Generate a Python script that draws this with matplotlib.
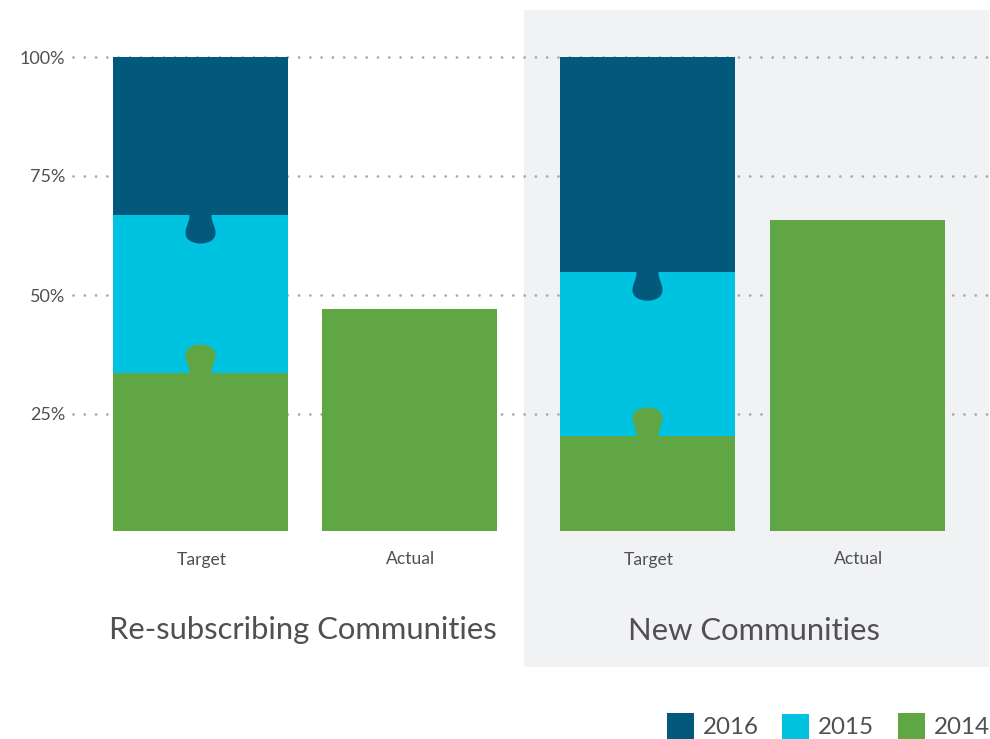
import matplotlib
matplotlib.use("Agg")
import matplotlib.pyplot as plt
from matplotlib.patches import Rectangle, PathPatch
from matplotlib.path import Path

plt.rcParams['font.family'] = ['Lato', 'DejaVu Sans']

# Share of the goal reached, per group
groups = ["Re-subscribing Communities", "New Communities"]
bar_labels = ["Target", "Actual"]
target_2014 = [33.6, 20.4]
target_2015 = [33.2, 34.4]
target_2016 = [33.2, 45.2]
actual_2014 = [47.0, 65.8]
grid_values = [25, 50, 75, 100]
grid_labels = ["25%", "50%", "75%", "100%"]
legend_years = ["2016", "2015", "2014"]

C16, C15, C14 = "#02597c", "#00c3e1", "#60a645"
TEXT = "#505052"

W, H = 990, 739
PX_PER_UNIT = 4.76
ZERO_PY = 533.0
BASE = 0.42


def val(py):
    return (ZERO_PY - py) / PX_PER_UNIT


fig = plt.figure(figsize=(W / 100, H / 100), dpi=100)
ax = fig.add_axes([0, 0, 1, 1])
ax.set_xlim(0, W)
ax.set_ylim(val(H), val(0))
ax.axis("off")

# Shaded panel behind the second group
ax.add_patch(Rectangle((524, val(667)), 465, val(10) - val(667),
                       fc="#f1f2f4", ec="none", zorder=0))

# Dotted reference lines and their labels
for v, lab in zip(grid_values, grid_labels):
    ax.plot([73, 989], [v, v], color="#a9a9a9", lw=2.0, zorder=1,
            linestyle=(0, (0.01, 4.05)), dash_capstyle="round")
    ax.text(65, v, lab, ha="right", va="center_baseline", fontsize=13,
            color=TEXT)


def tab(cx, edge, direction, color):
    """Puzzle-style tab growing from a bar edge; direction -1 points down the page."""
    def p(dx, dy):
        return (cx + dx, edge + direction * dy / PX_PER_UNIT)
    verts = [p(-11, -1), p(-11, 0),
             p(-11, 8), p(-15, 11), p(-15, 18),
             p(-15, 25), p(-8, 28.5), p(0, 28.5),
             p(8, 28.5), p(15, 25), p(15, 18),
             p(15, 11), p(11, 8), p(11, 0),
             p(11, -1), p(-11, -1)]
    codes = [Path.MOVETO, Path.LINETO,
             Path.CURVE4, Path.CURVE4, Path.CURVE4,
             Path.CURVE4, Path.CURVE4, Path.CURVE4,
             Path.CURVE4, Path.CURVE4, Path.CURVE4,
             Path.CURVE4, Path.CURVE4, Path.CURVE4,
             Path.LINETO, Path.CLOSEPOLY]
    ax.add_patch(PathPatch(Path(verts, codes), fc=color, ec="none", zorder=4))


BAR_W = 175
target_left = [113, 560]
actual_left = [322, 770]
title_centres = [303, 754]

for i in range(2):
    b1 = target_2014[i]
    b2 = b1 + target_2015[i]
    b3 = b2 + target_2016[i]
    x = target_left[i]
    ax.bar(x, b1 - BASE, BAR_W, bottom=BASE, align="edge", color=C14, zorder=3)
    ax.bar(x, b2 - b1, BAR_W, bottom=b1, align="edge", color=C15, zorder=3)
    ax.bar(x, b3 - b2, BAR_W, bottom=b2, align="edge", color=C16, zorder=3)
    tab(x + BAR_W / 2, b1, 1, C14)
    tab(x + BAR_W / 2, b2, -1, C16)
    xa = actual_left[i]
    ax.bar(xa, actual_2014[i] - BASE, BAR_W, bottom=BASE, align="edge",
           color=C14, zorder=3)
    for left, lab in zip((x, xa), bar_labels):
        ax.text(left + BAR_W / 2 + 1.5, val(558), lab, ha="center", va="center_baseline",
                fontsize=12.6, color=TEXT)
    ax.text(title_centres[i], val(628), groups[i], ha="center", va="center_baseline",
            fontsize=22.3, color=TEXT)

# Legend drawn along the bottom right
for left, year, color, top in zip([667, 782, 898], legend_years, [C16, C15, C14],
                                  [713, 714, 713]):
    ax.add_patch(Rectangle((left, val(739)), 27, val(top) - val(739),
                           fc=color, ec="none", zorder=3))
    ax.text(left + 36, val(726), year, ha="left", va="center_baseline", fontsize=17.4,
            color=TEXT)

fig.savefig("out.png", dpi=100, facecolor="white")
